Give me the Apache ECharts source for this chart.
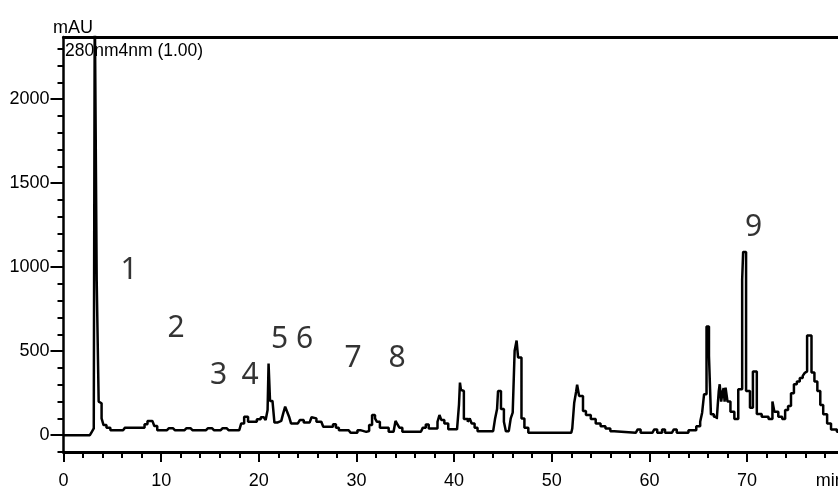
<!DOCTYPE html>
<html><head><meta charset="utf-8">
<script src="https://cdn.jsdelivr.net/npm/echarts@6/dist/echarts.min.js"></script>
<style>html,body{margin:0;padding:0;background:#fff}#c{width:838px;height:489px}</style>
</head><body><div id="c"></div>
<script>
// retention time (min)
const timeMin = [0,2.7,2.9,3.1,3.2,3.35,3.4,3.55,3.6,3.75,3.9,4.1,4.4,4.8,6.1,6.3,8.0,8.3,8.6,9.1,9.3,9.6,10.6,10.8,11.2,11.4,12.4,12.6,13.0,13.2,14.6,14.8,15.2,15.4,16.1,16.3,16.7,16.9,18.0,18.2,18.5,18.7,18.9,19.5,19.8,20.2,20.5,20.7,20.9,21.0,21.1,21.15,21.4,21.6,21.9,22.3,22.5,22.7,22.9,23.1,23.3,24.0,24.2,24.4,24.6,25.2,25.4,25.6,25.9,26.4,26.6,27.3,27.6,27.9,28.2,29.2,29.4,29.8,30.1,30.4,30.6,31.0,31.3,31.6,31.9,32.1,32.4,33.0,33.3,33.8,34.0,34.2,34.4,34.7,36.6,36.8,37.1,37.4,38.0,38.3,38.5,38.7,39.0,39.4,40.3,40.5,40.6,40.7,40.85,41.0,41.4,41.6,41.8,42.1,42.4,44.0,44.2,44.4,44.5,44.7,44.8,45.1,45.3,45.6,45.8,46.0,46.2,46.4,46.55,46.7,46.9,47.2,47.6,52.0,52.1,52.3,52.5,52.6,52.8,53.0,53.2,53.5,54.0,54.5,55.0,55.5,56.0,56.4,58.6,58.8,59.1,60.3,60.5,60.8,61.3,61.6,62.3,62.5,62.8,63.7,64.0,64.8,65.2,65.4,65.6,65.85,66.0,66.1,66.2,66.3,66.6,66.9,67.0,67.1,67.2,67.35,67.5,67.6,67.7,67.8,68.0,68.3,68.7,68.9,69.1,69.3,69.5,69.6,69.7,69.9,70.1,70.3,70.4,70.6,70.7,71.0,71.5,72.2,72.4,72.6,72.8,73.2,73.6,73.9,74.2,74.5,74.8,75.1,75.4,75.7,75.9,76.05,76.15,76.3,76.6,76.9,77.2,77.5,77.8,78.2,78.6,79.2,80];
// absorbance (mAU)
const absMAU = [0,0,20,40,2600,2600,920,920,200,190,100,60,45,30,30,45,45,65,85,85,55,30,30,42,42,30,30,42,42,30,30,42,42,30,30,42,42,30,30,70,110,110,80,80,95,107,100,90,150,427,427,204,204,75,85,85,130,170,140,110,70,70,90,90,75,75,107,100,80,70,50,50,65,45,30,30,14,14,30,30,20,25,60,120,100,80,45,45,20,25,85,65,45,20,20,45,63,40,40,80,120,90,70,35,35,180,313,270,263,96,80,100,70,45,24,24,100,156,263,263,156,80,24,24,100,134,503,563,463,463,100,44,14,14,40,193,260,300,234,234,144,120,96,70,54,40,24,14,14,34,14,14,34,14,34,14,14,34,14,14,30,54,80,134,244,647,647,473,473,124,110,96,180,260,303,200,260,280,200,283,200,140,96,96,273,273,926,1091,1091,263,263,163,163,379,379,126,110,96,96,200,140,110,96,150,174,250,303,320,340,353,370,380,593,593,373,320,263,180,124,70,34,20,0,0];
const xTicks = [0,10,20,30,40,50,60,70,80];
const yTicks = [0,500,1000,1500,2000];
const peakNames = ['1','2','3','4','5','6','7','8','9'];
const peakNameT = [6.71,11.52,15.87,19.1,22.12,24.68,29.65,34.16,70.67];
const peakNameV = [982,637,357,357,571,571,458,458,1238];

const yMinor = [];
for (let v = -100; v <= 2300; v += 100) yMinor.push(v);

const FONT = 'Liberation Sans';
const chart = echarts.init(document.getElementById('c'), null, {renderer:'canvas'});
chart.setOption({
  animation:false,
  backgroundColor:'#fff',
  grid:{left:63.5, width:781.2, top:37, height:415, containLabel:false, outerBoundsMode:'none'},
  title:[
    {text:'mAU', left:53, top:19, padding:0, textStyle:{fontFamily:FONT, fontSize:18, fontWeight:'normal', color:'#000'}},
    {text:'280nm4nm (1.00)', left:65, top:42, padding:0, textStyle:{fontFamily:FONT, fontSize:17.5, fontWeight:'normal', color:'#000'}}
  ],
  xAxis:[
    {type:'value', min:0, max:80, interval:10, position:'bottom',
     axisLine:{onZero:false, lineStyle:{color:'#000', width:3}},
     axisTick:{show:true, length:10, lineStyle:{color:'#000', width:2}},
     minorTick:{show:true, splitNumber:5, length:6, lineStyle:{color:'#000', width:2}},
     splitLine:{show:false}, minorSplitLine:{show:false},
     axisLabel:{margin:20, fontFamily:FONT, fontSize:18, color:'#000', alignMaxLabel:'right',
       formatter:v => v === 80 ? 'min' : String(v)}},
    {type:'value', min:0, max:80, position:'top',
     axisLine:{onZero:false, lineStyle:{color:'#000', width:3}},
     axisTick:{show:false}, axisLabel:{show:false}, splitLine:{show:false}}
  ],
  yAxis:[
    {type:'value', min:-100, max:2370, position:'left',
     axisLine:{show:true, onZero:false, lineStyle:{color:'#000', width:2.5}},
     axisTick:{show:true, customValues:yMinor, length:6, lineStyle:{color:'#000', width:2}},
     axisLabel:{customValues:yTicks, margin:14, fontFamily:FONT, fontSize:18, color:'#000',
       formatter:v => String(v)},
     splitLine:{show:false}},
    {type:'value', min:-100, max:2370, position:'left',
     axisLine:{show:false},
     axisTick:{show:true, customValues:yTicks, length:13, lineStyle:{color:'#000', width:2}},
     axisLabel:{show:false}, splitLine:{show:false}}
  ],
  series:[
    {type:'line', xAxisIndex:0, yAxisIndex:0, showSymbol:false, symbol:'none', step:'end',
     lineStyle:{color:'#000', width:2.5}, clip:true,
     data: timeMin.map((t,i) => [t, absMAU[i]])},
    {type:'scatter', xAxisIndex:0, yAxisIndex:0, symbolSize:1,
     itemStyle:{color:'rgba(0,0,0,0)'},
     label:{show:true, position:'inside', fontFamily:'Noto Sans', fontSize:30, color:'#000',
       formatter:p => p.data[2]},
     data: peakNames.map((n,i) => [peakNameT[i], peakNameV[i], n])}
  ]
});
</script></body></html>
